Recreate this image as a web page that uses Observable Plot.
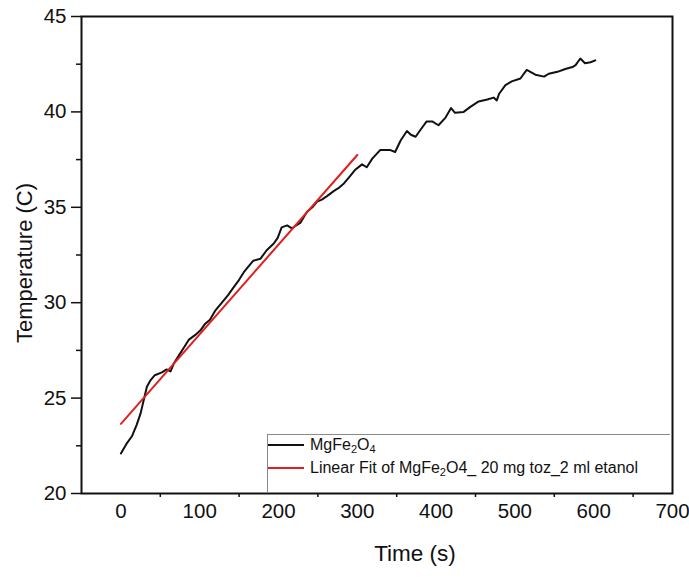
<!DOCTYPE html>
<html>
<head>
<meta charset="utf-8">
<script src="https://cdn.jsdelivr.net/npm/d3@7"></script>
<script src="https://cdn.jsdelivr.net/npm/@observablehq/plot@0.6"></script>
<style>
  html, body { margin: 0; padding: 0; background: #fff; }
  #wrap { position: relative; width: 689px; height: 577px; font-family: "Liberation Sans", Arial, sans-serif; color: #111; }
  #legend { position: absolute; left: 267px; top: 434px; width: 403px; height: 58px; border: 1px solid #8a8a8a; border-right: none; border-bottom: none; box-sizing: border-box; background: #fff; font-size: 16px; }
  .row { position: absolute; left: 0; height: 20px; display: flex; align-items: center; }
  .row .sw { width: 36px; height: 2px; margin-right: 6px; }
  .row sub { font-size: 11px; vertical-align: -3px; line-height: 0; }
  .atitle { position: absolute; white-space: nowrap; font-size: 22px; line-height: 1; transform: translate(-50%, -50%); }
  #ytitle { left: 25px; top: 263px; transform: translate(-50%, -50%) rotate(-90deg); }
  #xtitle { left: 415px; top: 554px; font-size: 22.5px; }
</style>
</head>
<body>
<div id="wrap">
  <div id="chart"></div>
  <div id="legend">
    <div class="row" style="top:0px"><span class="sw" style="background:#111"></span><span>MgFe<sub>2</sub>O<sub>4</sub></span></div>
    <div class="row" style="top:23px"><span class="sw" style="background:#e0201e"></span><span>Linear Fit of MgFe<sub>2</sub>O4_ 20 mg toz_2 ml etanol</span></div>
  </div>
  <div class="atitle" id="ytitle">Temperature (C)</div>
  <div class="atitle" id="xtitle">Time (s)</div>
</div>
<script>
// Measured series (time in s, temperature in C)
const time = [0, 7, 14, 20, 25, 29, 33, 37, 43, 52, 58, 63, 67, 73, 80, 86, 94, 101, 107, 113, 120, 130, 136, 143, 150, 156, 162, 168, 177, 185, 194, 199, 204, 211, 217, 228, 236, 243, 249, 255, 262, 270, 276, 283, 290, 297, 306, 312, 319, 329, 342, 348, 355, 363, 368, 374, 380, 388, 395, 403, 412, 419, 424, 435, 443, 454, 465, 473, 477, 480, 488, 496, 507, 515, 526, 537, 543, 554, 564, 573, 577, 583, 589, 596, 602];
const temp = [22.1, 22.6, 23.0, 23.6, 24.2, 24.9, 25.6, 25.9, 26.2, 26.35, 26.5, 26.4, 26.8, 27.2, 27.65, 28.05, 28.3, 28.55, 28.9, 29.1, 29.6, 30.1, 30.4, 30.8, 31.2, 31.6, 31.9, 32.2, 32.3, 32.75, 33.1, 33.4, 33.95, 34.05, 33.9, 34.2, 34.75, 35.0, 35.3, 35.4, 35.6, 35.85, 36.0, 36.25, 36.6, 36.95, 37.25, 37.1, 37.55, 38.0, 38.0, 37.9, 38.5, 39.0, 38.8, 38.7, 39.05, 39.5, 39.5, 39.3, 39.7, 40.2, 39.95, 40.0, 40.25, 40.55, 40.65, 40.75, 40.6, 40.95, 41.4, 41.6, 41.75, 42.2, 41.95, 41.85, 42.0, 42.1, 42.25, 42.35, 42.45, 42.8, 42.55, 42.6, 42.7];
// Linear fit end points
const fitTime = [0, 300];
const fitTemp = [23.65, 37.74];

// Axis ticks
const yMajor = [20, 25, 30, 35, 40, 45];
const yMinor = [22.5, 27.5, 32.5, 37.5, 42.5];
const xLabels = [0, 100, 200, 300, 400, 500, 600, 700];
const xMinor = [50, 150, 250, 350, 450, 550, 650];

const series = time.map((t, i) => ({t, T: temp[i]}));
const fit = fitTime.map((t, i) => ({t, T: fitTemp[i]}));

const chart = Plot.plot({
  width: 689,
  height: 577,
  marginLeft: 81,
  marginRight: 17,
  marginTop: 16,
  marginBottom: 84,
  style: {fontFamily: "Liberation Sans, Arial, sans-serif", fontSize: "20.5px", color: "#111", background: "#fff"},
  x: {domain: [-50, 700]},
  y: {domain: [20, 45]},
  marks: [
    Plot.axisY({ticks: yMajor, tickSize: 10, tickPadding: 5, strokeWidth: 1.5, label: null}),
    Plot.axisY({ticks: yMinor, tickSize: 5, strokeWidth: 1.5, tickFormat: () => "", label: null}),
    Plot.axisX({ticks: xLabels, tickSize: 0, tickPadding: 10, label: null}),
    Plot.axisX({ticks: xMinor, tickSize: 4, strokeWidth: 1.5, tickFormat: () => "", label: null}),
    Plot.line(series, {x: "t", y: "T", stroke: "#111", strokeWidth: 2}),
    Plot.line(fit, {x: "t", y: "T", stroke: "#e0201e", strokeWidth: 2}),
    Plot.frame({stroke: "#111", strokeWidth: 2})
  ]
});
document.getElementById("chart").appendChild(chart);
</script>
</body>
</html>
